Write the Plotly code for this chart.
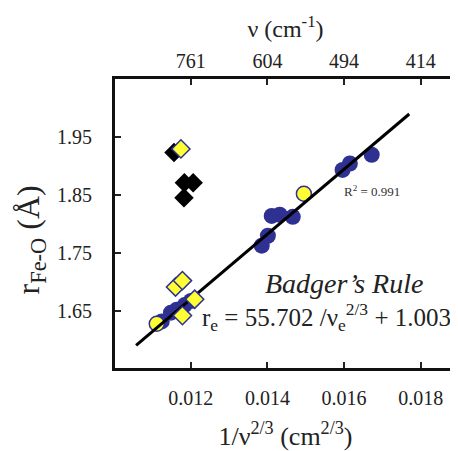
import plotly.graph_objects as go

# ---- data ----
blue_x = [0.01124, 0.01148, 0.01163, 0.01184, 0.01200, 0.01385, 0.01401, 0.01411, 0.01432, 0.01466, 0.01596, 0.01615, 0.01672]
blue_y = [1.633, 1.648, 1.653, 1.661, 1.668, 1.763, 1.780, 1.814, 1.816, 1.8125, 1.893, 1.904, 1.919]

ycirc_x = [0.01111, 0.01495]
ycirc_y = [1.629, 1.852]

ydiam_x = [0.01174, 0.01160, 0.01178, 0.01210, 0.01178]
ydiam_y = [1.929, 1.692, 1.703, 1.671, 1.643]

black_x = [0.01156, 0.01183, 0.01206, 0.01182]
black_y = [1.923, 1.871, 1.871, 1.845]

fit_slope = 55.702
fit_intercept = 1.003
fit_x = [0.01057, 0.01770]
fit_y = [fit_slope * v + fit_intercept for v in fit_x]

x_ticks = [0.012, 0.014, 0.016, 0.018]
x_ticktext = ["0.012", "0.014", "0.016", "0.018"]
top_ticktext = ["761", "604", "494", "414"]
y_ticks = [1.65, 1.75, 1.85, 1.95]
y_ticktext = ["1.65", "1.75", "1.85", "1.95"]

x_range = [0.01002, 0.01892]
y_range = [1.553, 2.049]

FONT = "Liberation Serif"
NAVY = "#2e3192"
YEL = "#ffff33"
TXT = "#222222"

fig = go.Figure()
fig.add_trace(go.Scatter(x=black_x, y=black_y, mode="markers",
                         marker=dict(symbol="diamond", size=15, color="black"),
                         showlegend=False, hoverinfo="skip"))
fig.add_trace(go.Scatter(x=blue_x, y=blue_y, mode="markers",
                         marker=dict(symbol="circle", size=16, color=NAVY,
                                     line=dict(width=0)),
                         showlegend=False))
fig.add_trace(go.Scatter(x=ycirc_x, y=ycirc_y, mode="markers",
                         marker=dict(symbol="circle", size=15, color=YEL,
                                     line=dict(width=1.5, color=NAVY)),
                         showlegend=False))
fig.add_trace(go.Scatter(x=fit_x, y=fit_y, mode="lines",
                         line=dict(color="black", width=3),
                         showlegend=False, hoverinfo="skip"))
fig.add_trace(go.Scatter(x=ydiam_x, y=ydiam_y, mode="markers",
                         marker=dict(symbol="diamond", size=14, color=YEL,
                                     line=dict(width=1.5, color=NAVY)),
                         showlegend=False))
# invisible trace to carry the top axis
fig.add_trace(go.Scatter(x=x_range, y=y_range, xaxis="x2", mode="markers",
                         marker=dict(opacity=0), showlegend=False, hoverinfo="skip"))

tickfont = dict(family=FONT, size=20, color=TXT)

# the page body adds an 8px offset, so the figure is 8px smaller
fig.update_layout(
    width=450, height=443,
    margin=dict(l=107, r=2, t=71, b=83, autoexpand=False),
    paper_bgcolor="white", plot_bgcolor="white",
    font=dict(family=FONT, color=TXT),
    xaxis=dict(range=x_range, tickvals=x_ticks, ticktext=x_ticktext,
               ticks="inside", ticklen=6, tickwidth=1.5, tickcolor=TXT,
               showline=True, linewidth=3, linecolor="#111",
               showgrid=False, zeroline=False, tickfont=tickfont,
               ticklabelstandoff=10, automargin=False,
               title=dict(text="1/ν<sup>2/3</sup> (cm<sup>2/3</sup>)",
                          font=dict(family=FONT, size=26, color=TXT), standoff=20)),
    xaxis2=dict(range=x_range, overlaying="x", side="top", anchor="y",
                tickvals=x_ticks, ticktext=top_ticktext,
                ticks="inside", ticklen=6, tickwidth=1.5, tickcolor=TXT,
                showline=True, linewidth=3, linecolor="#111",
                showgrid=False, zeroline=False, tickfont=tickfont,
                ticklabelstandoff=0, automargin=False,
                title=dict(text="ν (cm<sup>-1</sup>)",
                           font=dict(family=FONT, size=24, color=TXT), standoff=6)),
    yaxis=dict(range=y_range, tickvals=y_ticks, ticktext=y_ticktext,
               ticks="inside", ticklen=6, tickwidth=1.5, tickcolor=TXT,
               showline=True, linewidth=3, linecolor="#111",
               showgrid=False, zeroline=False, tickfont=tickfont,
               ticklabelstandoff=16, automargin=False),
    shapes=[dict(type="line", xref="paper", yref="paper", x0=0.998, x1=0.998, y0=0, y1=1,
                 line=dict(color=TXT, width=1.5))],
    annotations=[
        dict(text="r<sub>Fe-O</sub> (Å)", xref="paper", yref="paper",
             x=-0.245, y=0.443, textangle=-90, showarrow=False,
             font=dict(family=FONT, size=32, color=TXT),
             xanchor="center", yanchor="middle"),
        dict(text="R<sup>2</sup> = 0.991", xref="x", yref="y",
             x=0.01594, y=1.857, showarrow=False, xanchor="left",
             font=dict(family=FONT, size=13, color="#333")),
        dict(text="<i>Badger’s Rule</i>", xref="paper", yref="paper",
             x=0.909, y=0.233, showarrow=False, xanchor="right",
             font=dict(family=FONT, size=28, color=TXT)),
        dict(text="r<sub>e</sub> = 55.702 /ν<sub>e</sub><sup>2/3</sup> + 1.003",
             xref="paper", yref="paper", x=0.992, y=0.106, showarrow=False,
             xanchor="right",
             font=dict(family=FONT, size=25, color=TXT)),
    ],
)

fig.write_html("out.html")
